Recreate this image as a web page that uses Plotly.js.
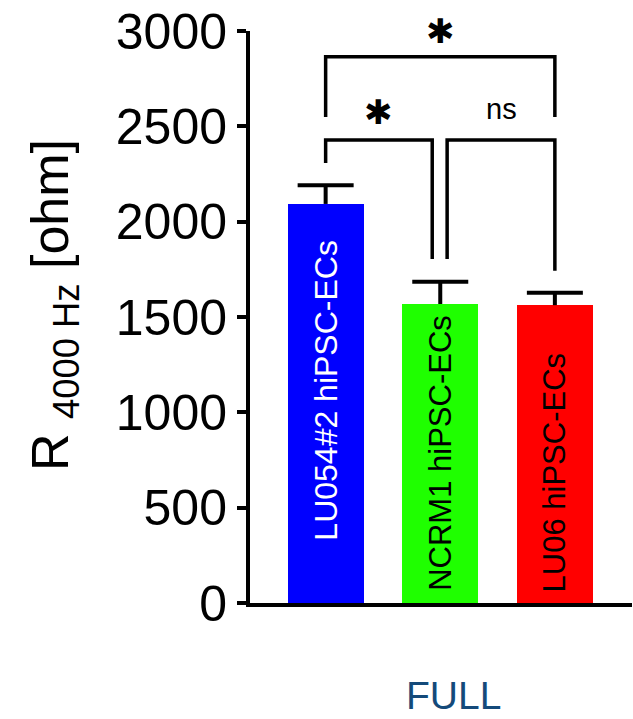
<!DOCTYPE html>
<html>
<head>
<meta charset="utf-8">
<script src="https://cdn.plot.ly/plotly-3.0.1.min.js"></script>
<style>html,body{margin:0;padding:0;background:#fff;}#chart{width:633px;height:719px;}</style>
</head>
<body>
<div id="chart"></div>
<script>
// ---- data ----
const categories = ["LU054#2 hiPSC-ECs", "NCRM1 hiPSC-ECs", "LU06 hiPSC-ECs"];
const means = [2093, 1568, 1562];
const sem = [98, 117, 65];
const barColors = ["#0000ff", "#1fff00", "#ff0000"];
const labelColors = ["#ffffff", "#000000", "#000000"];
const labelCenters = [1117, 789, 684];
const yTicks = [0, 500, 1000, 1500, 2000, 2500, 3000];
const groupLabel = "FULL";
const yTitle = "R <sub>4000 Hz</sub> [ohm]";
// significance brackets: [x start, x end, top, left leg end, right leg end]
const bracketX0 = [0, 0, 1.06];
const bracketX1 = [2, 0.93, 2];
const bracketTop = [2865, 2428, 2428];
const bracketLeg0 = [2549, 2308, 1804];
const bracketLeg1 = [2549, 1804, 1743];
const sigText = ["✱", "✱", "ns"];
const sigX = [1, 0.465, 1.538];
const sigY = [3000, 2575, 2590];

const FONT = "'Liberation Sans', Arial, sans-serif";
const labelSizes = [32, 31, 31];
const xs = categories.map((c, i) => i);

const bars = {
  type: "bar",
  x: xs,
  y: means,
  width: 0.663,
  marker: { color: barColors, line: { width: 0 } },
  hoverinfo: "skip",
  showlegend: false
};

// upward error bars: stem via error_y (no caps), cap via line marker
const errs = {
  type: "scatter",
  mode: "markers",
  x: xs,
  y: means.map((m, i) => m + sem[i]),
  marker: { symbol: "line-ew", size: 40, color: "#000", line: { color: "#000", width: 4 } },
  error_y: {
    type: "data", symmetric: false, array: sem.map(() => 0), arrayminus: sem,
    color: "#000", thickness: 4, width: 0
  },
  cliponaxis: false,
  hoverinfo: "skip",
  showlegend: false
};

const shapes = bracketX0.map((x0, i) => ({
  type: "path", xref: "x", yref: "y", layer: "above",
  path: `M ${x0} ${bracketLeg0[i]} L ${x0} ${bracketTop[i]} L ${bracketX1[i]} ${bracketTop[i]} L ${bracketX1[i]} ${bracketLeg1[i]}`,
  line: { color: "#000", width: 3.5 }
}));

const annotations = [];
categories.forEach((c, i) => {
  annotations.push({
    x: xs[i], y: labelCenters[i], xref: "x", yref: "y", text: c, textangle: -90,
    xanchor: "center", yanchor: "middle",
    showarrow: false, font: { family: FONT, size: labelSizes[i], color: labelColors[i] }
  });
});
sigText.forEach((t, i) => {
  annotations.push({
    x: sigX[i], y: sigY[i], xref: "x", yref: "y", text: t, showarrow: false,
    xanchor: "center", yanchor: "middle",
    font: { family: t === "ns" ? FONT : "DejaVu Sans", size: t === "ns" ? 29 : 34, color: "#000" }
  });
});
// group label under the axis (paper coords)
annotations.push({
  x: (453 - 250) / 382, y: -(695 - 603) / 572, xref: "paper", yref: "paper",
  xanchor: "center", yanchor: "middle", borderpad: 0,
  text: groupLabel, showarrow: false,
  font: { family: FONT, size: 39, color: "#144a7a" }
});
// y-axis title
annotations.push({
  x: -(250 - 54) / 382, y: (603 - 305) / 572, xref: "paper", yref: "paper",
  xanchor: "center", yanchor: "middle", textangle: -90,
  text: yTitle, showarrow: false,
  font: { family: FONT, size: 52, color: "#000" }
});

const layout = {
  width: 633, height: 719,
  margin: { l: 250, r: 1, t: 31, b: 116, pad: 0 },
  paper_bgcolor: "#fff", plot_bgcolor: "#fff",
  font: { family: FONT, color: "#000" },
  bargap: 0,
  xaxis: {
    range: [-0.66, 2.673], showline: true, linecolor: "#000", linewidth: 4,
    ticks: "", showticklabels: false, showgrid: false, zeroline: false, fixedrange: true
  },
  yaxis: {
    range: [0, 3000], tickvals: yTicks, ticktext: yTicks.map(String),
    showline: true, linecolor: "#000", linewidth: 4,
    ticks: "outside", ticklen: 9, tickwidth: 4, tickcolor: "#000",
    tickfont: { family: FONT, size: 50, color: "#000" },
    showgrid: false, zeroline: false, fixedrange: true
  },
  shapes: shapes,
  annotations: annotations
};

Plotly.newPlot("chart", [bars, errs], layout, { displayModeBar: false, staticPlot: true });
</script>
</body>
</html>
